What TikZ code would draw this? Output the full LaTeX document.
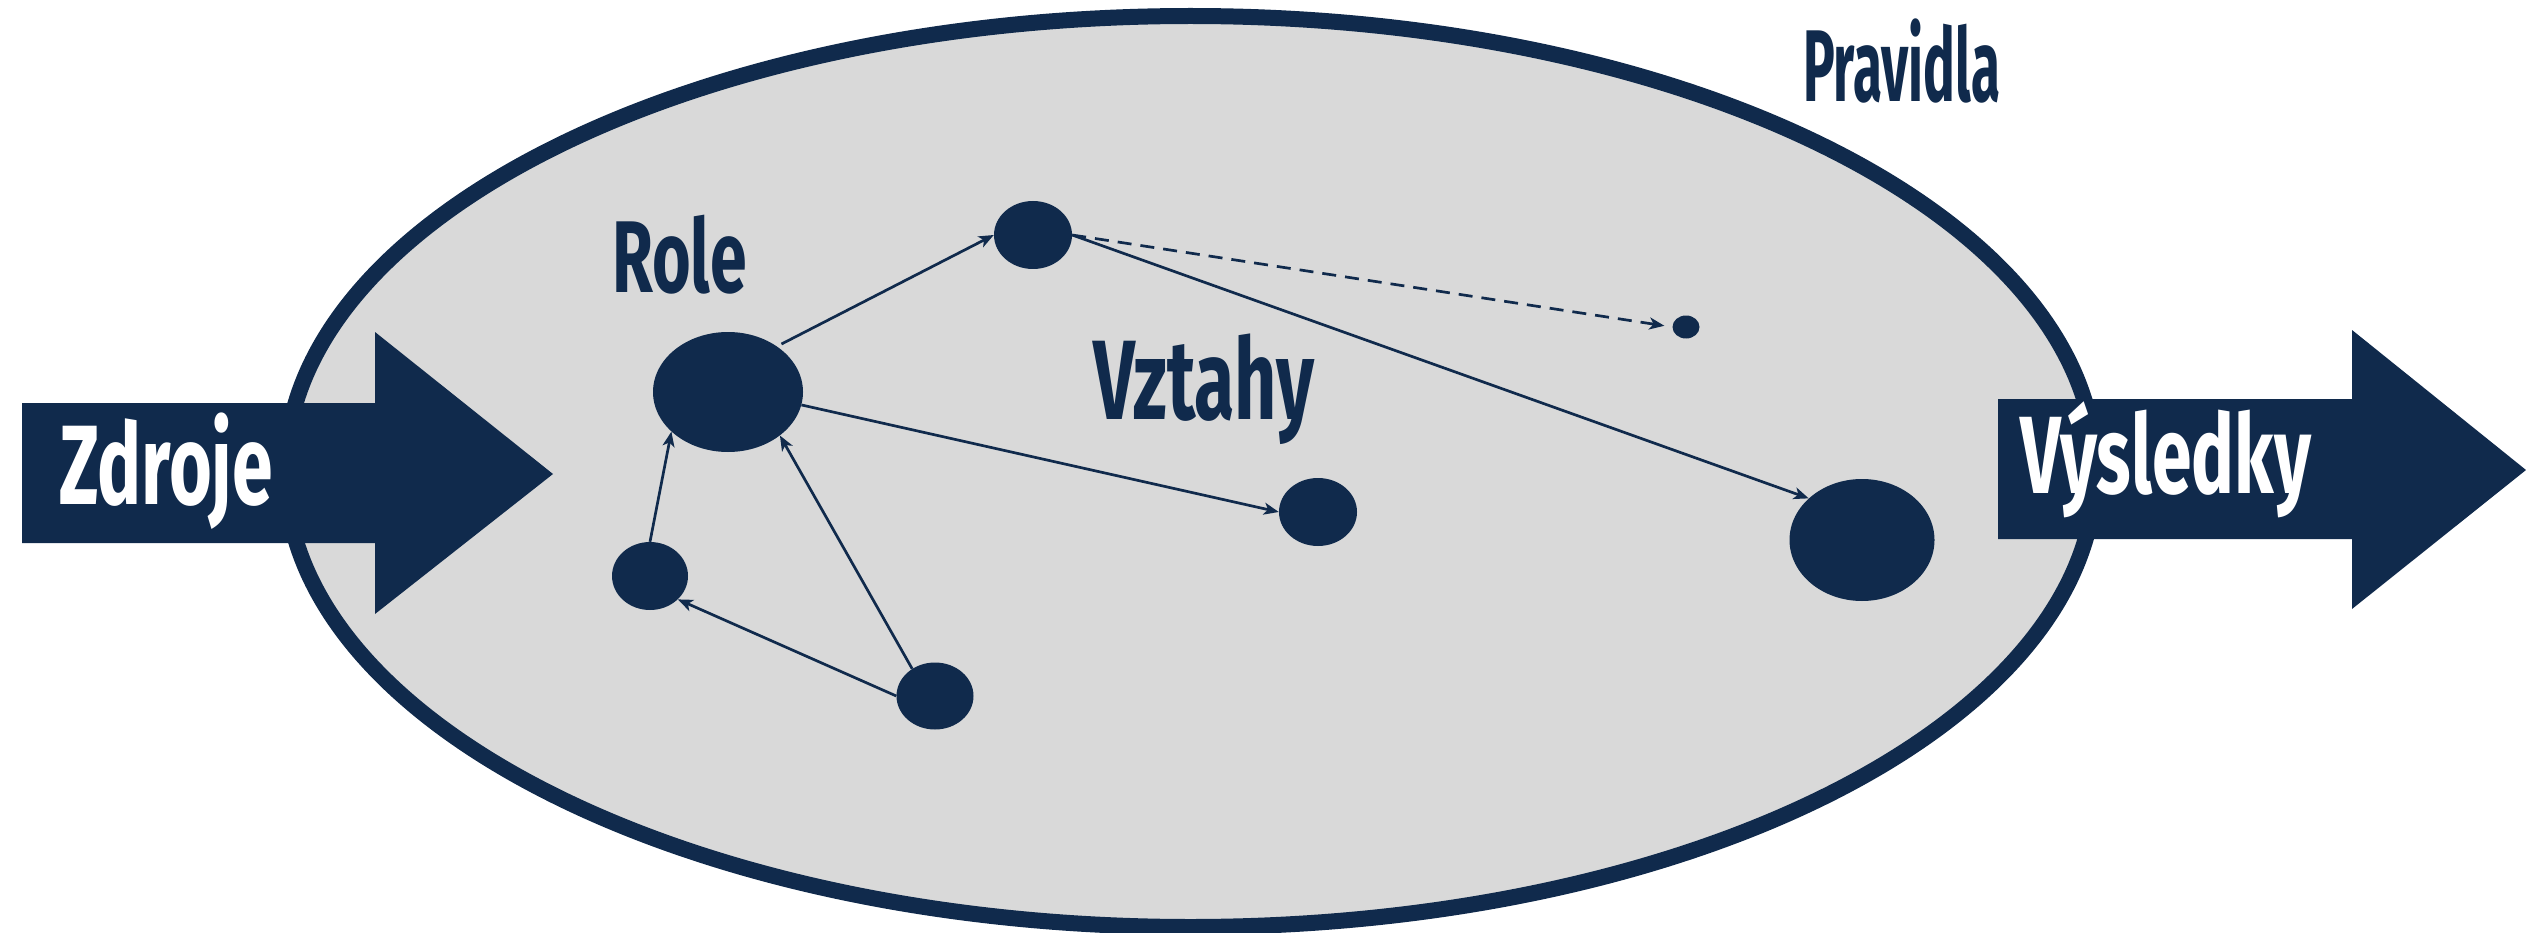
\documentclass[tikz,border=0pt]{standalone}
\usepackage{fontspec}
\setmainfont{Fira Sans}[FakeStretch=0.65]
\newfontfamily\narrowfont{Fira Sans}[FakeStretch=0.52]
\usepackage{xcolor}
\usepackage{tikz}
\usetikzlibrary{shapes.geometric, arrows.meta}
\definecolor{navy}{RGB}{16,42,76}
\definecolor{areagray}{RGB}{217,217,217}
\tikzset{
	% The area in which the rules hold
	area/.style={
		draw=navy, fill=areagray, line width=16pt, ellipse, inner sep=0pt
	},
	% The big arrows going in and out
	flow/.style={
		fill=navy
	},
	% The actors
	actor/.style={
		fill=navy, ellipse, inner sep=0pt
	},
	% The links between the actors
	link/.style={
		draw=navy, line width=2.7pt, -{Stealth[length=15pt,width=12pt,inset=4pt]}
	},
	% The links that are not sure
	maybe_link/.style={
		link, dash pattern=on 14pt off 9pt
	},
	% The words on the grey area
	dark_text/.style={
		text=navy, anchor=base west, inner sep=0pt, font=\bfseries\fontsize{102}{102}\selectfont
	},
	% The words on the arrows
	light_text/.style={
		text=white, anchor=base west, inner sep=0pt, font=\bfseries\fontsize{113}{113}\selectfont
	},
}
\begin{document}
\begin{tikzpicture}[x=1pt, y=-1pt]
		\useasboundingbox (0,0) rectangle (2526,933);

		% The rules
		\node [area, minimum width=1810, minimum height=911] (Area) at (1190.5,471.5) {};

		% Actors
		\node [actor, minimum width=150, minimum height=120] (Role) at (728,392) {};
		\node [actor, minimum width=78, minimum height=68] (Upper) at (1033,235) {};
		\node [actor, minimum width=27, minimum height=23] (Far) at (1686,327) {};
		\node [actor, minimum width=78, minimum height=68] (Middle) at (1318,512) {};
		\node [actor, minimum width=145, minimum height=122] (Right) at (1862,540) {};
		\node [actor, minimum width=76, minimum height=68] (Left) at (650,576) {};
		\node [actor, minimum width=77, minimum height=67] (Lower) at (935,696) {};

		% Links
		\draw [link, shorten <=5pt] (Role.43) -- (Upper.west);
		\draw [link] (Upper.east) -- (Right.142);
		\draw [maybe_link, shorten >=8pt] (Upper.east) -- (Far.west);
		\draw [link] (Role.350) -- (Middle.west);
		\draw [link] (Left.north) -- (Role.215);
		\draw [link] (Lower.130) -- (Role.320);
		\draw [link] (Lower.west) -- (Left.320);

		% In and out
		\fill [flow] (22,403) -- (375,403) -- (375,332) -- (553,474) -- (375,614) -- (375,543) -- (22,543) -- cycle;
		\fill [flow] (1998,399) -- (2352,399) -- (2352,330) -- (2526,470) -- (2352,609) -- (2352,539) -- (1998,539) -- cycle;

		% Words
		\node [dark_text] (Role label) at (612,293) {Role};
		\node [dark_text, font=\bfseries\fontsize{113}{113}\selectfont] (Relations label) at (1093,419) {Vztahy};
		\node [dark_text, font=\narrowfont\bfseries\fontsize{102}{102}\selectfont] (Rules label) at (1803,102) {Pravidla};
		\node [light_text] (Sources label) at (59,504) {Zdroje};
		\node [light_text, font=\bfseries\fontsize{110}{110}\selectfont] (Results label) at (2020,493) {Výsledky};
	\end{tikzpicture}
\end{document}
